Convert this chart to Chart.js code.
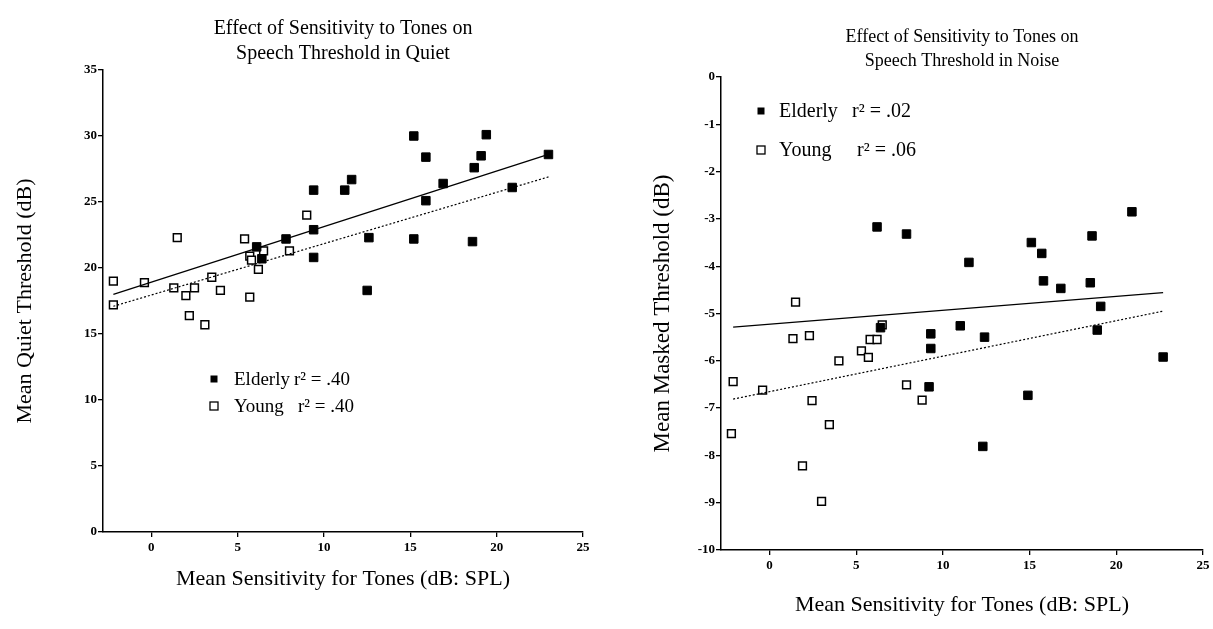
<!DOCTYPE html>
<html>
<head>
<meta charset="utf-8">
<script src="https://cdn.jsdelivr.net/npm/chart.js@4"></script>
<style>
  html, body { margin: 0; padding: 0; background: #fff; }
  .panel { position: absolute; top: 0; height: 629px; }
  #quiet-wrap { left: 0; width: 600px; }
  #noise-wrap { left: 600px; width: 613px; }
</style>
</head>
<body>
<div class="panel" id="quiet-wrap"><canvas id="chart-quiet"></canvas></div>
<div class="panel" id="noise-wrap"><canvas id="chart-noise"></canvas></div>
<script>
// ---- data ----
const xTicks = [0, 5, 10, 15, 20, 25];
const quietTicks = [0, 5, 10, 15, 20, 25, 30, 35];
const noiseTicks = [0, -1, -2, -3, -4, -5, -6, -7, -8, -9, -10];

// quiet panel
const quietElderlyX = [15.2, 19.4, 15.9, 19.1, 23.0, 18.7, 16.9, 11.6, 11.2, 9.4, 15.9, 20.9, 9.4, 7.8, 12.6, 15.2, 18.6, 6.1, 6.4, 9.4, 12.5];
const quietElderlyY = [30.0, 30.1, 28.4, 28.5, 28.6, 27.6, 26.4, 26.7, 25.9, 25.9, 25.1, 26.1, 22.9, 22.2, 22.3, 22.2, 22.0, 21.6, 20.7, 20.8, 18.3];
const quietYoungX = [-2.2, -2.2, -0.4, 1.5, 1.3, 2.0, 2.5, 2.2, 3.1, 3.5, 4.0, 5.4, 5.7, 5.7, 5.8, 6.2, 6.5, 8.0, 9.0];
const quietYoungY = [19.0, 17.2, 18.9, 22.3, 18.5, 17.9, 18.5, 16.4, 15.7, 19.3, 18.3, 22.2, 17.8, 20.9, 20.6, 19.9, 21.3, 21.3, 24.0];
const quietFitX = [-2.2, 23.0];
const quietFitElderly = [18.0, 28.6];
const quietFitYoung = [17.1, 26.9];

// noise panel
const noiseElderlyX = [6.2, 7.9, 20.9, 18.6, 15.1, 15.7, 11.5, 15.8, 16.8, 18.5, 19.1, 18.9, 6.4, 11.0, 9.3, 12.4, 9.3, 22.7, 9.2, 14.9, 12.3];
const noiseElderlyY = [-3.17, -3.32, -2.85, -3.36, -3.5, -3.73, -3.92, -4.31, -4.47, -4.35, -4.85, -5.35, -5.3, -5.26, -5.43, -5.5, -5.74, -5.92, -6.55, -6.73, -7.81];
const noiseYoungX = [1.5, 1.35, 2.3, 5.3, 5.7, 5.8, 6.2, 6.5, 4.0, -2.1, -0.4, 2.45, 7.9, 8.8, 3.45, -2.2, 1.9, 3.0];
const noiseYoungY = [-4.76, -5.53, -5.47, -5.79, -5.93, -5.55, -5.55, -5.24, -6.0, -6.44, -6.62, -6.84, -6.51, -6.83, -7.35, -7.54, -8.22, -8.97];
const noiseFitX = [-2.1, 22.7];
const noiseFitElderly = [-5.29, -4.56];
const noiseFitYoung = [-6.81, -4.95];

const FONT = "'Liberation Serif', 'Times New Roman', serif";
const zip = (xs, ys) => xs.map((x, i) => ({ x, y: ys[i] }));

// legend drawn inside the plot, like the original figure
const inlineLegend = {
  id: 'inlineLegend',
  afterDraw(chart, args, opts) {
    const ctx = chart.ctx;
    ctx.save();
    ctx.font = `${opts.size}px ${FONT}`;
    ctx.fillStyle = '#000';
    ctx.textBaseline = 'middle';
    opts.rows.forEach(r => {
      const s = r.filled ? 7 : 8;
      if (r.filled) ctx.fillRect(opts.mx - s / 2, r.y - s / 2, s, s);
      else { ctx.lineWidth = 1.3; ctx.strokeRect(opts.mx - s / 2, r.y - s / 2, s, s); }
      ctx.fillText(r.name, opts.tx, r.y + 1);
      ctx.fillText(r.stat, r.sx, r.y + 1);
    });
    ctx.restore();
  }
};

function makeChart(id, cfg) {
  const tickFont = { family: FONT, size: 13, weight: 'bold' };
  return new Chart(document.getElementById(id), {
    type: 'scatter',
    data: {
      datasets: [
        { type: 'line', data: zip(cfg.fitX, cfg.fitElderly), borderColor: '#000', borderWidth: 1.3, pointRadius: 0, fill: false },
        { type: 'line', data: zip(cfg.fitX, cfg.fitYoung), borderColor: '#000', borderWidth: 1.2, borderDash: [2, 2], pointRadius: 0, fill: false },
        { label: 'Elderly', data: cfg.elderly, pointStyle: 'rect', pointRadius: 6, backgroundColor: '#000', borderColor: '#000', borderWidth: 1 },
        { label: 'Young', data: cfg.young, pointStyle: 'rect', pointRadius: 5.5, backgroundColor: '#fff', borderColor: '#000', borderWidth: 1.5 }
      ]
    },
    options: {
      responsive: true, maintainAspectRatio: false, animation: false,
      layout: { padding: { left: 0, right: cfg.padRight, top: 0, bottom: 0 } },
      plugins: {
        legend: { display: false },
        tooltip: { enabled: false },
        title: {
          display: true, text: cfg.title, color: '#000', fullSize: false,
          font: { family: FONT, size: cfg.titleSize, weight: 'normal', lineHeight: cfg.titleLine },
          padding: cfg.titlePad
        },
        inlineLegend: cfg.legend
      },
      scales: {
        x: {
          type: 'linear', min: -2.8, max: 25,
          afterBuildTicks: s => { s.ticks = xTicks.map(v => ({ value: v })); },
          afterFit: s => { s.height = cfg.xHeight; },
          ticks: { color: '#000', font: tickFont, padding: 3, maxRotation: 0 },
          grid: { drawOnChartArea: false, drawTicks: true, tickLength: 5, color: '#000', lineWidth: 1.3 },
          border: { color: '#000', width: 1.5 },
          title: { display: true, text: 'Mean Sensitivity for Tones (dB: SPL)', color: '#000',
                   font: { family: FONT, size: 22 }, padding: { top: 0, bottom: cfg.xTitlePad } }
        },
        y: {
          type: 'linear', min: cfg.yMin, max: cfg.yMax,
          afterBuildTicks: s => { s.ticks = cfg.yTicks.map(v => ({ value: v })); },
          afterFit: s => { s.width = cfg.yWidth; },
          ticks: { color: '#000', font: tickFont, padding: 1 },
          grid: { drawOnChartArea: false, drawTicks: true, tickLength: 5, color: '#000', lineWidth: 1.3 },
          border: { color: '#000', width: 1.5 },
          title: { display: true, text: cfg.yTitle, color: '#000',
                   font: { family: FONT, size: cfg.yTitleSize }, padding: { top: cfg.yTitlePad, bottom: 0 } }
        }
      }
    },
    plugins: [inlineLegend]
  });
}

makeChart('chart-quiet', {
  title: ['Effect of Sensitivity to Tones on', 'Speech Threshold in Quiet'],
  titleSize: 20, titleLine: 1.25, titlePad: { top: 16.5, bottom: 3.5 },
  yTitle: 'Mean Quiet Threshold (dB)', yTitleSize: 22, yTitlePad: 12,
  yMin: 0, yMax: 35, yTicks: quietTicks,
  fitX: quietFitX, fitElderly: quietFitElderly, fitYoung: quietFitYoung,
  elderly: zip(quietElderlyX, quietElderlyY), young: zip(quietYoungX, quietYoungY),
  padRight: 17, xHeight: 97, yWidth: 103, xTitlePad: 37,
  legend: { size: 19, mx: 214, tx: 234, rows: [
    { filled: true, name: 'Elderly', stat: 'r² = .40', y: 379, sx: 294 },
    { filled: false, name: 'Young', stat: 'r² = .40', y: 406, sx: 298 }
  ] }
});

makeChart('chart-noise', {
  title: ['Effect of Sensitivity to Tones on', 'Speech Threshold in Noise'],
  titleSize: 18, titleLine: 1.333, titlePad: { top: 25, bottom: 4 },
  yTitle: 'Mean Masked Threshold (dB)', yTitleSize: 23, yTitlePad: 49,
  yMin: -10, yMax: 0, yTicks: noiseTicks,
  fitX: noiseFitX, fitElderly: noiseFitElderly, fitYoung: noiseFitYoung,
  elderly: zip(noiseElderlyX, noiseElderlyY), young: zip(noiseYoungX, noiseYoungY),
  padRight: 10, xHeight: 79, yWidth: 121, xTitlePad: 11,
  legend: { size: 20, mx: 161, tx: 179, rows: [
    { filled: true, name: 'Elderly', stat: 'r² = .02', y: 111, sx: 252 },
    { filled: false, name: 'Young', stat: 'r² = .06', y: 150, sx: 257 }
  ] }
});
</script>
</body>
</html>
